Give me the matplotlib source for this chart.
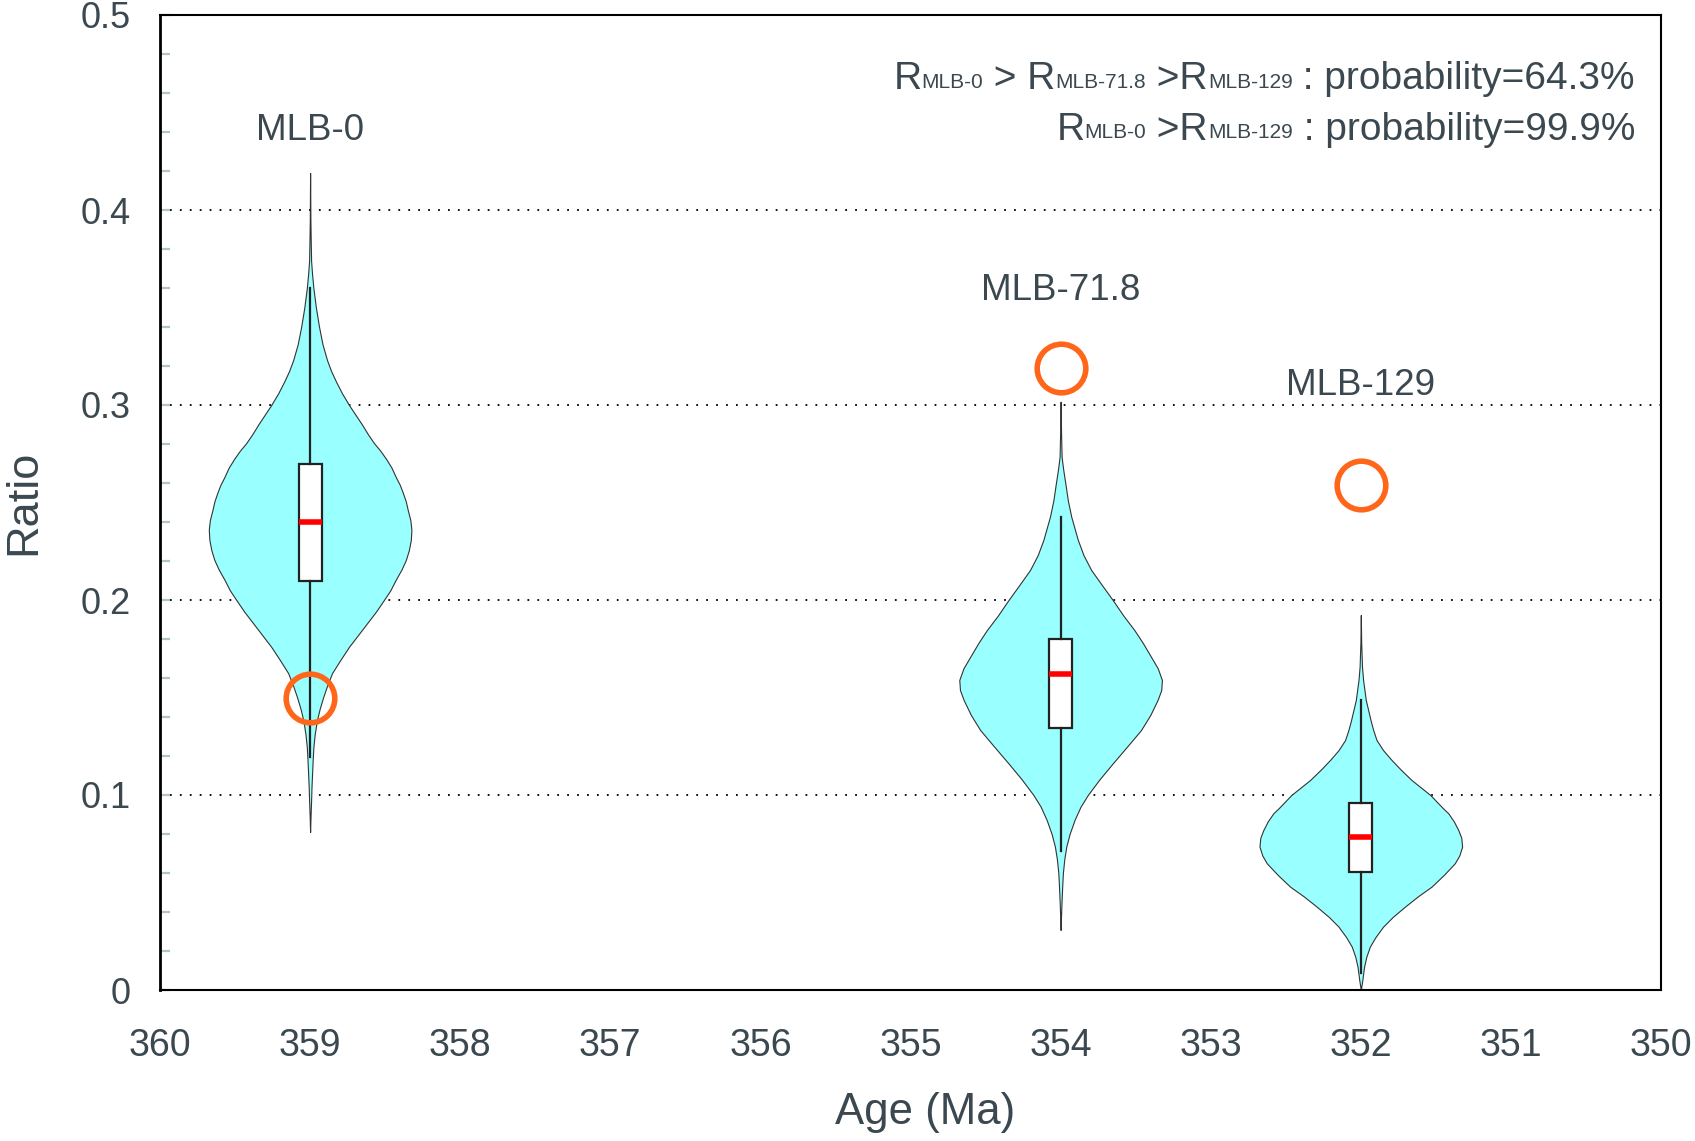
import matplotlib
matplotlib.use("Agg")
import matplotlib.pyplot as plt
import numpy as np

# sample positions (Ma) and names
ages = [359, 354, 352]
names = ["MLB-0", "MLB-71.8", "MLB-129"]
name_y = [0.436, 0.354, 0.305]

# violin outlines: ratio and relative half width
v1_y = [0.081, 0.090, 0.097, 0.104, 0.111, 0.118, 0.1246, 0.131, 0.138, 0.144,
        0.150, 0.156, 0.1625, 0.169, 0.176, 0.182, 0.188, 0.194, 0.200, 0.205,
        0.2105, 0.2155, 0.2205, 0.2255, 0.2308, 0.236, 0.241, 0.246, 0.2505, 0.255,
        0.259, 0.263, 0.268, 0.2725, 0.2765, 0.2805, 0.285, 0.290, 0.295, 0.300,
        0.306, 0.312, 0.3175, 0.323, 0.331, 0.340, 0.350, 0.360, 0.367, 0.374,
        0.385, 0.395, 0.419]
v1_w = [0.0, 0.5, 1.0, 1.4, 2.0, 2.6, 3.3, 4.6, 6.7, 9.5,
        13, 17, 22, 30, 39, 48, 57, 66, 74, 80.5,
        86, 91.5, 96, 99, 101, 101.6, 100.5, 98, 96, 93,
        90, 86, 81.5, 76, 70.5, 64, 58, 52, 45.5, 39,
        32, 26, 21, 17, 12.5, 9, 5.8, 3.3, 2.0, 1.0,
        0.6, 0.3, 0.0]
v2_y = [0.0308, 0.039, 0.046, 0.053, 0.060, 0.067, 0.0735, 0.080, 0.0872, 0.094,
        0.100, 0.108, 0.1162, 0.125, 0.1333, 0.141, 0.1487, 0.1538, 0.159, 0.165,
        0.1709, 0.178, 0.1846, 0.192, 0.200, 0.208, 0.2154, 0.223, 0.2308, 0.2427,
        0.251, 0.260, 0.267, 0.2735, 0.285, 0.3017]
v2_w = [0.0, 0.5, 1.0, 1.6, 2.3, 3.7, 5.7, 9, 14, 20,
        27.3, 39, 52.3, 67, 80.7, 90, 97.3, 101, 101.7, 97.5,
        90.7, 82.5, 74, 63, 52.3, 41, 30.7, 23, 17.3, 10.7,
        7.3, 4.7, 2.6, 1.0, 0.5, 0.0]
v3_y = [0.0, 0.005, 0.012, 0.017, 0.0222, 0.027, 0.0325, 0.0375, 0.0427, 0.048,
        0.053, 0.059, 0.065, 0.069, 0.0735, 0.078, 0.082, 0.0865, 0.0906, 0.0933,
        0.100, 0.1077, 0.113, 0.118, 0.123, 0.1282, 0.1335, 0.1385, 0.1487, 0.159,
        0.1658, 0.178, 0.1923]
v3_w = [0.0, 1.5, 3.3, 5.5, 9, 14.5, 22.3, 32, 44, 57,
        70.7, 83, 94, 98.5, 101.3, 100.5, 97.5, 93, 87.5, 82,
        69.5, 50.7, 40, 30.7, 22.3, 15.7, 12.3, 9.7, 5.0, 2.3,
        1.2, 0.4, 0.0]

# box statistics
q1 = [0.2095, 0.1345, 0.0607]
q3 = [0.2697, 0.1798, 0.0961]
med = [0.2398, 0.1619, 0.0783]
whislo = [0.1196, 0.0714, 0.0087]
whishi = [0.3598, 0.2427, 0.1487]

# open circles
circle_y = [0.150, 0.319, 0.259]

txt_color = "#3b4850"
font = ["Liberation Sans", "DejaVu Sans"]

fig = plt.figure(figsize=(16.95, 11.41), dpi=100)
ax = fig.add_axes([160 / 1695, 1 - 990 / 1141, 1501 / 1695, 975 / 1141])

vp = []
for ys, ws, m in zip([v1_y, v2_y, v3_y], [v1_w, v2_w, v3_w], med):
    vp.append(dict(coords=np.array(ys), vals=np.array(ws), mean=m, median=m,
                   min=ys[0], max=ys[-1]))
parts = ax.violin(vp, positions=ages, widths=1.35, showmeans=False,
                  showextrema=False, showmedians=False)
for body in parts["bodies"]:
    body.set_facecolor("#99ffff")
    body.set_edgecolor("#333333")
    body.set_linewidth(0.8)
    body.set_alpha(1)

stats = []
for i in range(3):
    stats.append(dict(med=med[i], q1=q1[i], q3=q3[i], whislo=whislo[i],
                      whishi=whishi[i], fliers=[]))
ax.bxp(stats, positions=ages, widths=0.153, patch_artist=True, showcaps=False,
       showfliers=False, manage_ticks=False,
       boxprops=dict(facecolor="white", edgecolor="#222222", linewidth=1.6),
       whiskerprops=dict(color="#222222", linewidth=1.6),
       medianprops=dict(color="red", linewidth=4, solid_capstyle="butt"))

ax.plot(ages, circle_y, "o", ls="none", mfc="none", mec="#ff661a", mew=4,
        ms=35, zorder=5)

for a, n, y in zip(ages, names, name_y):
    ax.text(a, y, n, ha="center", va="baseline", fontsize=26.5, family=font,
            color=txt_color)

ax.set_xlim(360, 350)
ax.set_ylim(0, 0.5)
ax.set_xticks(np.arange(360, 349, -1))
ax.set_xticklabels([str(v) for v in range(360, 349, -1)])
ax.set_yticks([0, 0.1, 0.2, 0.3, 0.4, 0.5])
ax.set_yticklabels(["0", "0.1", "0.2", "0.3", "0.4", "0.5"])
ax.set_yticks(np.arange(0.02, 0.5, 0.02), minor=True)
ax.tick_params(axis="x", length=0, pad=27, labelsize=27, labelcolor=txt_color)
ax.tick_params(axis="y", which="both", direction="in", length=7, width=1.6,
               color="#b4c4c4", pad=21, labelsize=26, labelcolor=txt_color)
for lab in ax.get_xticklabels() + ax.get_yticklabels():
    lab.set_family(font)

ax.yaxis.grid(True, which="major", linestyle=(0, (1, 4.5)), color="black",
              linewidth=1.3)
ax.set_axisbelow(True)
for s in ax.spines.values():
    s.set_linewidth(1.5)
ax.spines["left"].set_linewidth(2)

ax.set_xlabel("Age (Ma)", fontsize=31.5, family=font, color=txt_color)
ax.xaxis.set_label_coords(0.51, -0.105)
ax.set_ylabel("Ratio", fontsize=32.5, family=font, color=txt_color)
ax.yaxis.set_label_coords(-0.077, 0.5)

# probability notes, built right to left so subscripts line up
line1 = [("R", 0), ("MLB-0", 1), (" > R", 0), ("MLB-71.8", 1), (" >R", 0),
         ("MLB-129", 1), (" : probability=64.3%", 0)]
line2 = [("R", 0), ("MLB-0", 1), (" >R", 0), ("MLB-129", 1),
         (" : probability=99.9%", 0)]
fig.canvas.draw()
r = fig.canvas.get_renderer()
W, H = fig.bbox.width, fig.bbox.height
for pieces, base in [(line1, 1141 - 89), (line2, 1141 - 139.5)]:
    x = 1635
    for s, sub in reversed(pieces):
        t = fig.text(x / W, (base + (1.5 if sub else 0)) / H, s, ha="right",
                     va="baseline", fontsize=15 if sub else 28, family=font,
                     color=txt_color)
        x = t.get_window_extent(r).x0

fig.savefig("out.png", dpi=100)
